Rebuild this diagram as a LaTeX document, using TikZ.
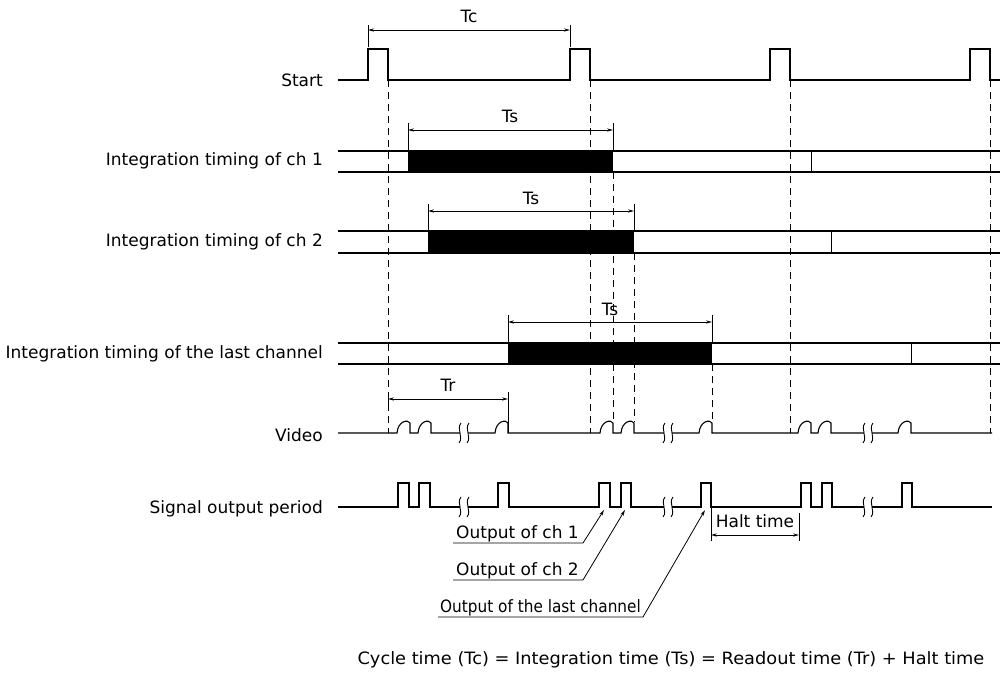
\documentclass[tikz,border=0pt]{standalone}
\usepackage{fontspec}
\usepackage{graphicx}
\setmainfont{DejaVu Sans}
\usetikzlibrary{arrows.meta}
\begin{document}
\begin{tikzpicture}[x=1pt,y=-1pt,
  sig/.style={line width=1.1pt, line join=miter},
  guide/.style={line width=1pt, dash pattern=on 7pt off 5pt},
  band/.style={line width=1.1pt},
  tick/.style={line width=0.8pt},
  dimarrow/.style={line width=0.8pt, {Stealth[length=6pt,width=3.2pt]}-{Stealth[length=6pt,width=3.2pt]}},
  leader/.style={line width=0.8pt, -{Stealth[length=6pt,width=3.2pt]}},
  lbl/.style={font=\fontsize{17}{19}\selectfont, inner sep=0pt},
  brk/.style={line width=0.9pt}]
\useasboundingbox (0,0) rectangle (1002,679);

% ---------- row labels ----------
\node[lbl, anchor=east] (lstart) at (323,80) {Start};
\node[lbl, anchor=east] (lch1) at (323,161) {Integration timing of ch 1};
\node[lbl, anchor=east] (lch2) at (323,242) {Integration timing of ch 2};
\node[lbl, anchor=east] (llast) at (323,354) {Integration timing of the last channel};
\node[lbl, anchor=east] (lvideo) at (323,435) {Video};
\node[lbl, anchor=east] (lsig) at (323,509) {Signal output period};

% ---------- dashed guide lines ----------
\draw[guide] (388,80) -- (388,433);
\draw[guide] (590,80) -- (590,433);
\draw[guide] (790,80) -- (790,433);
\draw[guide] (990,80) -- (990,433);
\draw[guide] (613,172) -- (613,422);
\draw[guide] (634,253) -- (634,422);
\draw[guide] (712,364) -- (712,422);

% ---------- Start ----------
\draw[sig] (338,80) -- (368,80) -- (368,49) -- (388,49) -- (388,80)
  -- (570,80) -- (570,49) -- (590,49) -- (590,80)
  -- (770,80) -- (770,49) -- (790,49) -- (790,80)
  -- (970,80) -- (970,49) -- (990,49) -- (990,80) -- (1000,80);
\draw[tick] (368,25) -- (368,47);
\draw[tick] (570,25) -- (570,47);
\draw[dimarrow] (368,30) -- (570,30);
\node[lbl] (tc) at (469,16) {Tc};

% ---------- ch 1 ----------
\draw[band] (338,151) -- (1000,151);
\draw[band] (338,172) -- (1000,172);
\fill (408,151) rectangle (613,172);
\draw[tick] (811,151) -- (811,172);
\draw[tick] (408,123) -- (408,151);
\draw[tick] (613,123) -- (613,151);
\draw[dimarrow] (408,130) -- (613,130);
\node[lbl] (ts1) at (510,116) {Ts};

% ---------- ch 2 ----------
\draw[band] (338,231) -- (1000,231);
\draw[band] (338,253) -- (1000,253);
\fill (428,231) rectangle (634,253);
\draw[tick] (831,231) -- (831,253);
\draw[tick] (428,204) -- (428,231);
\draw[tick] (634,204) -- (634,231);
\draw[dimarrow] (428,211) -- (634,211);
\node[lbl] (ts2) at (531,198) {Ts};

% ---------- last channel ----------
\draw[band] (338,343) -- (1000,343);
\draw[band] (338,364) -- (1000,364);
\fill (508,343) rectangle (712,364);
\draw[tick] (911,343) -- (911,364);
\draw[tick] (508,315) -- (508,343);
\draw[tick] (712,315) -- (712,343);
\draw[dimarrow] (508,322) -- (712,322);
\node[lbl] (ts3) at (610,309) {Ts};

% ---------- Tr ----------
\draw[tick] (388,392) -- (388,405);
\draw[tick] (508,392) -- (508,433);
\draw[dimarrow] (388,399) -- (508,399);
\node[lbl] (tr) at (448,385) {Tr};

% ---------- Video ----------
\draw[sig] (338,433) -- (397,433)
  .. controls (398,421) and (408,419) .. (410,423) -- (410,433) -- (418,433)
  .. controls (419,421) and (429,419) .. (431,423) -- (431,433) -- (460,433);
\draw[sig] (468,433) -- (495,433)
  .. controls (496,421) and (506,419) .. (508,423) -- (508,433) -- (600,433)
  .. controls (601,421) and (611,419) .. (613,423) -- (613,433) -- (621,433)
  .. controls (622,421) and (632,419) .. (634,423) -- (634,433) -- (664,433);
\draw[sig] (672,433) -- (699,433)
  .. controls (700,421) and (710,419) .. (712,423) -- (712,433) -- (798,433)
  .. controls (799,421) and (809,419) .. (811,423) -- (811,433) -- (818,433)
  .. controls (819,421) and (829,419) .. (831,423) -- (831,433) -- (864,433);
\draw[sig] (872,433) -- (898,433)
  .. controls (899,421) and (909,419) .. (911,423) -- (911,433) -- (992,433);

% ---------- Signal output period ----------
\draw[sig] (338,507) -- (398,507) -- (398,483) -- (409,483) -- (409,507)
  -- (419,507) -- (419,483) -- (430,483) -- (430,507) -- (460,507);
\draw[sig] (468,507) -- (498,507) -- (498,483) -- (509,483) -- (509,507)
  -- (599,507) -- (599,483) -- (610,483) -- (610,507)
  -- (621,507) -- (621,483) -- (631,483) -- (631,507) -- (664,507);
\draw[sig] (672,507) -- (701,507) -- (701,483) -- (711,483) -- (711,507)
  -- (801,507) -- (801,483) -- (811,483) -- (811,507)
  -- (822,507) -- (822,483) -- (832,483) -- (832,507) -- (864,507);
\draw[sig] (872,507) -- (902,507) -- (902,483) -- (912,483) -- (912,507) -- (992,507);

% ---------- break marks ----------
\foreach \c/\b in {464/433, 668/433, 868/433, 464/507, 668/507, 868/507}{
  \draw[brk] (\c-3,\b-10) .. controls (\c-8,\b-4) and (\c,\b+4) .. (\c-5,\b+10);
  \draw[brk] (\c+5,\b-10) .. controls (\c,\b-4) and (\c+8,\b+4) .. (\c+3,\b+10);
}

% ---------- Halt time ----------
\draw[tick] (711,507) -- (711,541);
\draw[tick] (799,513) -- (799,541);
\draw[dimarrow] (711,535) -- (799,535);
\node[lbl] (halt) at (755,521) {Halt time};

% ---------- output labels ----------
\node[lbl, anchor=base west] (o1) at (456,538) {Output of ch 1};
\node[lbl, anchor=base west] (o2) at (456,575) {Output of ch 2};
\node[lbl, anchor=base west] (o3) at (440,612) {\scalebox{0.9}[1]{Output of the last channel}};
\coordinate (t1) at (604,510);
\coordinate (t2) at (625,510);
\coordinate (t3) at (705,510);
\draw[leader] (453,543) -- (583,543) -- (t1);
\draw[leader] (453,580) -- (583,580) -- (t2);
\draw[leader] (438,617) -- (643,617) -- (t3);

% ---------- formula ----------
\node[lbl] (formula) at (671,660) {\scalebox{1.045}[1]{Cycle time (Tc) = Integration time (Ts) = Readout time (Tr) + Halt time}};
\end{tikzpicture}
\end{document}
